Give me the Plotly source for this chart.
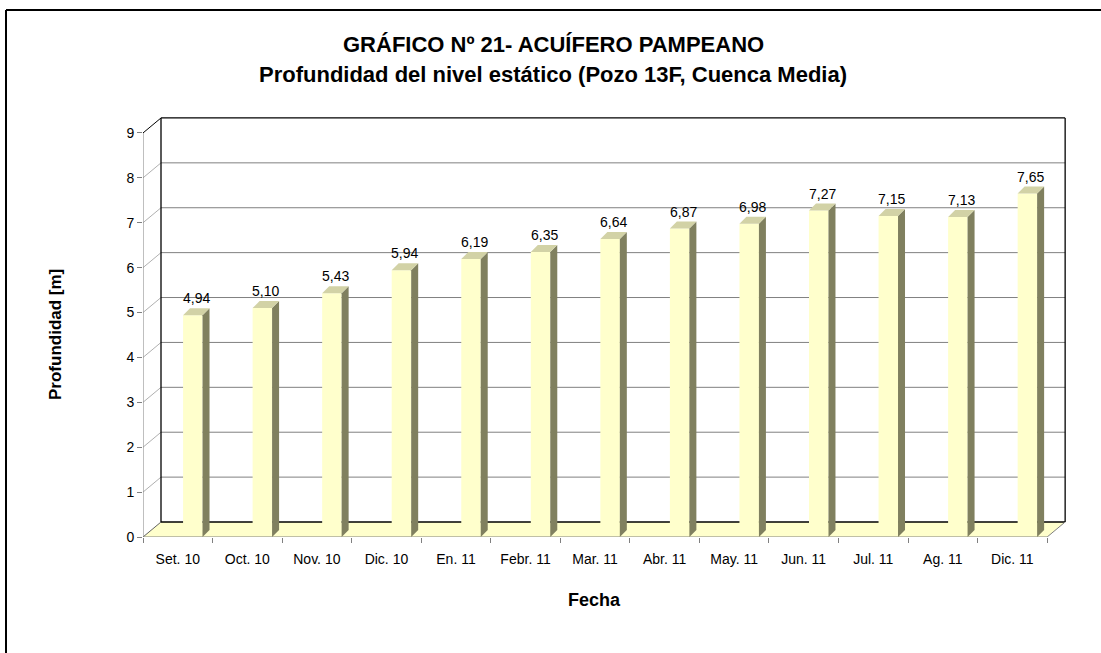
import plotly.graph_objects as go

# ---- data ----
categories = ["Set. 10", "Oct. 10", "Nov. 10", "Dic. 10", "En. 11", "Febr. 11", "Mar. 11",
              "Abr. 11", "May. 11", "Jun. 11", "Jul. 11", "Ag. 11", "Dic. 11"]
values = [4.94, 5.10, 5.43, 5.94, 6.19, 6.35, 6.64, 6.87, 6.98, 7.27, 7.15, 7.13, 7.65]
value_labels = ["4,94", "5,10", "5,43", "5,94", "6,19", "6,35", "6,64", "6,87", "6,98",
                "7,27", "7,15", "7,13", "7,65"]
y_ticks = [0, 1, 2, 3, 4, 5, 6, 7, 8, 9]

title_text = "GRÁFICO Nº 21- ACUÍFERO PAMPEANO"
subtitle_text = "Profundidad del nivel estático (Pozo 13F, Cuenca Media)"
x_title = "Fecha"
y_title = "Profundidad [m]"

# ---- layout geometry ----
W, H = 1101, 653
ML, MR, MT, MB = 143, 33, 115, 116
PW, PH = W - ML - MR, H - MT - MB
XR = [-0.5, 12.8]
YR = [0, 9.4]
sx = PW / (XR[1] - XR[0])
sy = PH / (YR[1] - YR[0])
dxw, dyw = 18 / sx, 15 / sy      # back wall depth
bdx, bdy = 7 / sx, 7 / sy        # bar depth
bar_w, bar_off = 0.28, 0.076
n = len(categories)
x_lo, x_hi = -0.5, n - 0.5
ymax = y_ticks[-1]

def xp(px):
    return (px - ML) / PW

def yp(py):
    return (H - MB - py) / PH

FRONT = "#FFFFCC"
SIDE = "#80805F"
TOP = "#D2D2A6"
GRID = "#808080"

shapes = []
# floor
shapes.append(dict(type="path", layer="below", line=dict(width=0), fillcolor=FRONT,
                   path=f"M {x_lo} 0 L {x_hi} 0 L {x_hi+dxw} {dyw} L {x_lo+dxw} {dyw} Z"))
# back wall gridlines & side-wall diagonals
for k in y_ticks:
    col = "#000000" if k in (0, ymax) else GRID
    shapes.append(dict(type="line", layer="below", x0=x_lo + dxw, x1=x_hi + dxw,
                       y0=k + dyw, y1=k + dyw, line=dict(color=col, width=1.3 if k in (0, ymax) else 1)))
    dcol = "#000000" if k == ymax else ("#606060" if k == 0 else "#B0B0B0")
    shapes.append(dict(type="line", layer="below", x0=x_lo, x1=x_lo + dxw,
                       y0=k, y1=k + dyw, line=dict(color=dcol, width=1)))
# back wall vertical edges
for xx in (x_lo + dxw, x_hi + dxw):
    shapes.append(dict(type="line", layer="below", x0=xx, x1=xx, y0=dyw, y1=ymax + dyw,
                       line=dict(color="#000000", width=1.3)))
# floor right diagonal
shapes.append(dict(type="line", layer="below", x0=x_hi, x1=x_hi + dxw, y0=0, y1=dyw,
                   line=dict(color=GRID, width=1)))
# front axes lines
shapes.append(dict(type="line", layer="above", x0=x_lo, x1=x_hi, y0=0, y1=0,
                   line=dict(color=GRID, width=1)))
shapes.append(dict(type="line", layer="above", x0=x_lo, x1=x_lo, y0=0, y1=ymax,
                   line=dict(color=GRID, width=1)))

# bar side and top faces
for i, v in enumerate(values):
    xl = i + bar_off
    xr = xl + bar_w
    shapes.append(dict(type="path", layer="above", line=dict(width=0), fillcolor=SIDE,
                       path=f"M {xr} 0 L {xr+bdx} {bdy} L {xr+bdx} {v+bdy} L {xr} {v} Z"))
    shapes.append(dict(type="path", layer="above", line=dict(width=0), fillcolor=TOP,
                       path=f"M {xl} {v} L {xr} {v} L {xr+bdx} {v+bdy} L {xl+bdx} {v+bdy} Z"))

# outer frame (left and top edges)
shapes.append(dict(type="line", xref="paper", yref="paper", x0=xp(6), x1=xp(6),
                   y0=yp(10), y1=yp(H + 10), line=dict(color="#000000", width=2)))
shapes.append(dict(type="line", xref="paper", yref="paper", x0=xp(6), x1=xp(W + 10),
                   y0=yp(10), y1=yp(10), line=dict(color="#000000", width=2)))

annotations = []
for i, (v, lab) in enumerate(zip(values, value_labels)):
    annotations.append(dict(x=i + bar_off + bar_w / 2 + bdx / 2, y=v + bdy, text=lab,
                            showarrow=False, yanchor="bottom", xanchor="center",
                            font=dict(family="Arial", size=14, color="#000000")))

annotations += [
    dict(x=xp(553), y=yp(45), xref="paper", yref="paper", text=f"<b>{title_text}</b>",
         xanchor="center", yanchor="middle",
         showarrow=False, font=dict(family="Arial", size=22, color="#000000")),
    dict(x=xp(553), y=yp(75), xref="paper", yref="paper", text=f"<b>{subtitle_text}</b>",
         xanchor="center", yanchor="middle",
         showarrow=False, font=dict(family="Arial", size=22, color="#000000")),
    dict(x=xp(594), y=yp(600), xref="paper", yref="paper", text=f"<b>{x_title}</b>",
         xanchor="center", yanchor="middle",
         showarrow=False, font=dict(family="Arial", size=18, color="#000000")),
    dict(x=xp(55), y=yp(335), xref="paper", yref="paper", text=f"<b>{y_title}</b>",
         xanchor="center", yanchor="middle",
         textangle=-90, showarrow=False, font=dict(family="Arial", size=17, color="#000000")),
]

fig = go.Figure()
fig.add_trace(go.Bar(x=categories, y=values, width=bar_w, offset=bar_off,
                     marker=dict(color=FRONT, line=dict(width=0)), hoverinfo="x+y"))

fig.update_layout(
    width=W, height=H, autosize=False,
    margin=dict(l=ML, r=MR, t=MT, b=MB, pad=0),
    paper_bgcolor="white", plot_bgcolor="white",
    showlegend=False,
    shapes=shapes, annotations=annotations,
    font=dict(family="Arial", size=14, color="#000000"),
    xaxis=dict(type="category", range=XR, tickson="boundaries", ticks="outside",
               ticklen=5, tickcolor=GRID, showgrid=False, showline=False, zeroline=False,
               ticklabelstandoff=12, tickfont=dict(family="Arial", size=14, color="#000000")),
    yaxis=dict(range=YR, tickmode="array", tickvals=y_ticks, ticks="outside", ticklen=5,
               tickcolor=GRID, showgrid=False, showline=False, zeroline=False,
               tickfont=dict(family="Arial", size=14, color="#000000")),
)

fig.write_html("out.html", config={"displayModeBar": False},
               post_script="document.body.style.margin='0px';document.body.style.padding='0px';")
